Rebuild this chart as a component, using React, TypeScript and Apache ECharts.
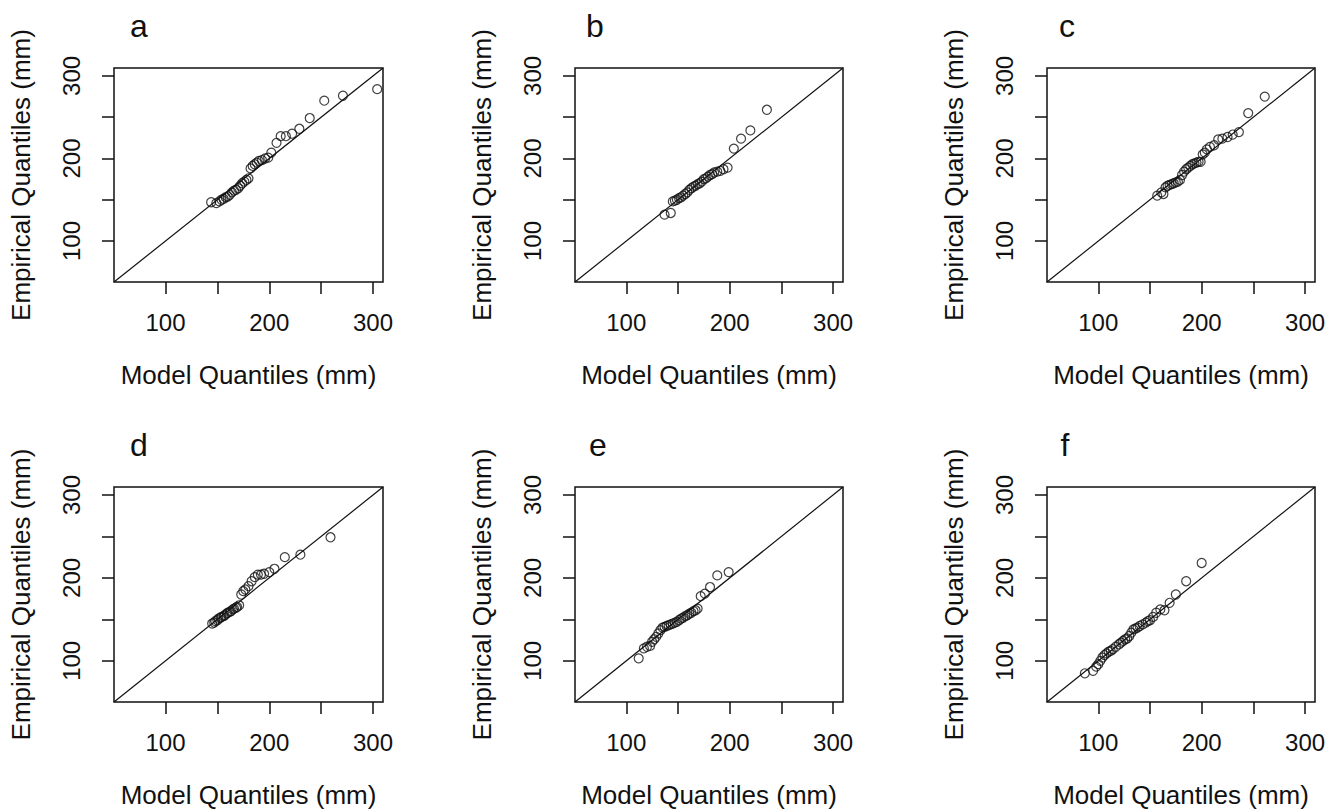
import React, { useEffect, useRef } from "react";
import * as echarts from "echarts";

const panelLetters = ["a", "b", "c", "d", "e", "f"];
const axisMin = 50.4;
const axisMax = 309.6;
const tickValues = [100, 150, 200, 250, 300];
const tickLabelValues = [100, 200, 300];
const xTitle = "Model Quantiles (mm)";
const yTitle = "Empirical Quantiles (mm)";

// [model quantile, empirical quantile]
const panelA = [
  [144, 147], [149, 146], [152, 148], [154, 150], [156, 151], [158, 153], [160, 154], [162, 156],
  [164, 159], [166, 161], [168, 162], [170, 164], [172, 167], [174, 170], [176, 172], [178, 174],
  [180, 176], [182, 188], [184, 191], [186, 193], [188, 195], [190, 197], [193, 198], [196, 200],
  [199, 201], [202, 207], [207, 219], [211, 227], [216, 227], [222, 230], [229, 236], [239, 249],
  [253, 270], [271, 276], [304, 284],
];
const panelB = [
  [137, 132], [143, 134], [145, 148], [147, 149], [149, 150], [151, 152], [153, 153], [155, 155],
  [157, 157], [159, 159], [161, 162], [163, 164], [165, 166], [167, 167], [169, 169], [171, 170],
  [173, 172], [175, 175], [177, 176], [179, 178], [181, 180], [183, 181], [185, 183], [188, 184],
  [191, 185], [194, 187], [198, 189], [204, 212], [211, 224], [220, 234], [236, 259],
];
const panelC = [
  [157, 155], [161, 159], [163, 157], [165, 165], [167, 167], [169, 168], [171, 169], [173, 170],
  [175, 171], [177, 172], [179, 174], [181, 180], [183, 184], [185, 187], [187, 189], [189, 191],
  [191, 193], [193, 194], [195, 195], [197, 196], [199, 196], [201, 205], [203, 207], [205, 211],
  [208, 214], [212, 216], [216, 223], [220, 224], [225, 226], [230, 229], [236, 232], [245, 255],
  [261, 275],
];
const panelD = [
  [145, 145], [147, 146], [148, 148], [150, 149], [151, 151], [153, 152], [154, 153], [156, 154],
  [157, 155], [159, 157], [160, 158], [162, 159], [163, 160], [165, 162], [166, 163], [168, 164],
  [169, 165], [171, 167], [173, 180], [175, 184], [177, 186], [180, 190], [183, 196], [186, 201],
  [189, 204], [192, 204], [195, 205], [200, 207], [205, 211], [215, 225], [230, 228], [259, 249],
];
const panelE = [
  [112, 103], [117, 115], [120, 117], [123, 118], [125, 123], [127, 126], [129, 129], [131, 133],
  [133, 137], [135, 140], [137, 141], [139, 142], [141, 143], [143, 144], [145, 145], [147, 146],
  [149, 147], [151, 149], [153, 151], [155, 152], [157, 154], [159, 155], [161, 157], [163, 158],
  [165, 160], [167, 161], [169, 163], [172, 178], [176, 181], [181, 189], [188, 203], [199, 207],
];
const panelF = [
  [87, 85], [95, 88], [98, 93], [100, 96], [102, 100], [104, 104], [106, 107], [108, 109],
  [110, 111], [112, 112], [114, 114], [117, 117], [120, 120], [122, 122], [124, 124], [126, 126],
  [128, 127], [130, 130], [132, 134], [134, 138], [136, 139], [138, 140], [140, 142], [143, 144],
  [146, 146], [148, 148], [150, 149], [153, 153], [156, 158], [160, 162], [164, 161], [169, 170],
  [175, 180], [185, 196], [200, 218],
];
const panelData = [panelA, panelB, panelC, panelD, panelE, panelF];

// layout (pixels)
const gridBoxes = [
  { left: 114, top: 68, width: 269, height: 214 },
  { left: 575, top: 68, width: 268, height: 214 },
  { left: 1047, top: 68, width: 268, height: 214 },
  { left: 114, top: 487, width: 269, height: 215 },
  { left: 575, top: 487, width: 268, height: 215 },
  { left: 1047, top: 487, width: 268, height: 215 },
];
const letterPos = [
  [139, 26], [595, 26], [1067, 26],
  [139, 445], [598, 445], [1065, 445],
];

const FONT = "'Liberation Sans', Arial, sans-serif";
const INK = "#111";

export default function App() {
  const ref = useRef<HTMLDivElement>(null);

  useEffect(() => {
    if (!ref.current) return;
    const chart = echarts.init(ref.current, undefined, { renderer: "svg" });

    const grid = gridBoxes.map((g) => ({
      ...g,
      show: true,
      borderColor: INK,
      borderWidth: 1.5,
      backgroundColor: "transparent",
      containLabel: false,
    }));

    const axisCommon = {
      type: "value",
      min: axisMin,
      max: axisMax,
      splitLine: { show: false },
      axisLine: { show: false },
      axisTick: {
        show: true,
        length: 12,
        inside: false,
        customValues: tickValues,
        lineStyle: { color: INK, width: 1.5 },
      },
    };

    const xAxis = gridBoxes.map((_, i) => ({
      ...axisCommon,
      gridIndex: i,
      axisLabel: {
        customValues: tickLabelValues,
        fontSize: 24,
        fontFamily: FONT,
        color: INK,
        margin: 28,
      },
      name: xTitle,
      nameLocation: "middle",
      nameGap: 80,
      nameTextStyle: { fontSize: 26, fontFamily: FONT, color: INK },
    }));

    const yAxis = gridBoxes.map((_, i) => ({
      ...axisCommon,
      gridIndex: i,
      axisLabel: {
        customValues: tickLabelValues,
        fontSize: 24,
        fontFamily: FONT,
        color: INK,
        rotate: 90,
        margin: 31,
      },
      name: yTitle,
      nameLocation: "middle",
      nameGap: 80,
      nameTextStyle: { fontSize: 26, fontFamily: FONT, color: INK },
    }));

    const series: any[] = [];
    panelData.forEach((data, i) => {
      series.push({
        type: "line",
        xAxisIndex: i,
        yAxisIndex: i,
        data: [[axisMin, axisMin], [axisMax, axisMax]],
        showSymbol: false,
        symbol: "none",
        lineStyle: { color: INK, width: 1.2 },
        silent: true,
        z: 1,
      });
      series.push({
        type: "scatter",
        xAxisIndex: i,
        yAxisIndex: i,
        data,
        symbol: "circle",
        symbolSize: 9,
        itemStyle: { color: "transparent", borderColor: INK, borderWidth: 1.2 },
        z: 2,
      });
    });

    const graphic = panelLetters.map((t, i) => ({
      type: "text",
      x: letterPos[i][0],
      y: letterPos[i][1],
      style: {
        text: t,
        fontSize: 32,
        fontFamily: FONT,
        fill: INK,
        align: "center",
        verticalAlign: "middle",
      },
    }));

    chart.setOption({
      animation: false,
      backgroundColor: "#fff",
      grid,
      xAxis,
      yAxis,
      series,
      graphic,
    } as any);

    return () => chart.dispose();
  }, []);

  return (
    <div
      ref={ref}
      style={{ position: "fixed", left: 0, top: 0, width: 1339, height: 811, background: "#fff" }}
    />
  );
}
